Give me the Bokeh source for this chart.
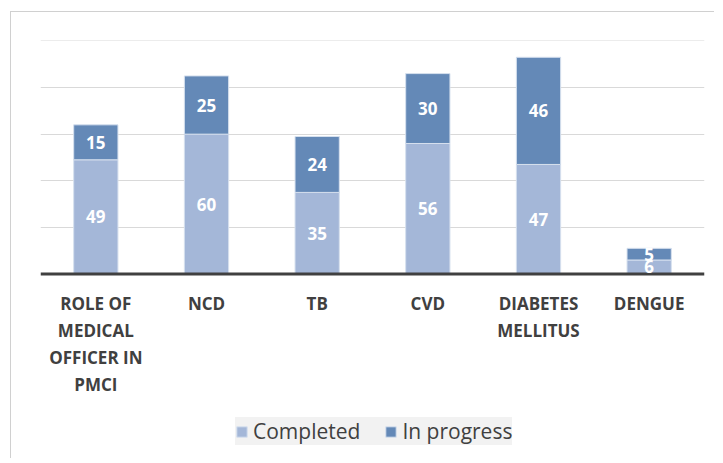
from bokeh.plotting import figure
from bokeh.models import (FactorRange, Range1d, FixedTicker, ColumnDataSource, LabelSet,
                          Legend, LegendItem, Span)
from bokeh.core.properties import value
from bokeh.embed import file_html
from bokeh.resources import INLINE

categories = ["ROLE OF\nMEDICAL\nOFFICER IN\nPMCI", "NCD", "TB", "CVD", "DIABETES\nMELLITUS", "DENGUE"]
completed = [49, 60, 35, 56, 47, 6]
in_progress = [15, 25, 24, 30, 46, 5]
series = ["Completed", "In progress"]
colors = ["#a4b7d8", "#6489b7"]
grid_ticks = [20, 40, 60, 80, 100]

FONT = "Open Sans"
PPU = 2.33            # pixels per value unit
FRAME_H = 418
Y_TOP = 100.2
Y_BOTTOM = Y_TOP - FRAME_H / PPU

split = [c.split("\n") for c in categories]
n_lines = max(len(s) for s in split)
line_cols = {f"line{i}": [s[i] if i < len(s) else "" for s in split] for i in range(n_lines)}

src = ColumnDataSource(dict(
    x=categories,
    Completed=completed,
    **{"In progress": in_progress},
    base=[0] * len(categories),
    c_mid=[c / 2 for c in completed],
    p_mid=[c + p / 2 for c, p in zip(completed, in_progress)],
    c_txt=[str(v) for v in completed],
    p_txt=[str(v) for v in in_progress],
    **line_cols,
))

p = figure(x_range=FactorRange(*categories), y_range=Range1d(Y_BOTTOM, Y_TOP),
           frame_width=664, frame_height=FRAME_H, output_backend="svg", toolbar_location=None,
           min_border_left=29, min_border_right=10, min_border_top=28, min_border_bottom=0,
           styles={"border-left": "1px solid #d0d0d0", "border-top": "1px solid #d0d0d0",
                   "margin-left": "10px", "margin-top": "11px"})
p.outline_line_color = None

rs = p.vbar_stack(series, x="x", width=0.4, color=colors, source=src,
                  line_color="#d6e0ee", line_width=1)

p.xaxis.visible = False
p.yaxis.visible = False
p.xgrid.grid_line_color = None
p.ygrid.ticker = FixedTicker(ticks=grid_ticks)
p.ygrid.grid_line_color = "#d9d9d9"
p.ygrid.grid_line_width = 1

# category axis baseline
p.add_layout(Span(location=0, dimension="width", line_color="#404040", line_width=3))

# category labels under the baseline, one centred line at a time
for i in range(n_lines):
    p.add_layout(LabelSet(x="x", y="base", text=f"line{i}", source=src,
                          y_offset=-18 - 27 * i,
                          text_align="center", text_baseline="top",
                          text_color="#404040", text_font=value(FONT),
                          text_font_style="bold", text_font_size="17px"))

# value labels
for col_y, col_t in (("c_mid", "c_txt"), ("p_mid", "p_txt")):
    p.add_layout(LabelSet(x="x", y=col_y, text=col_t, source=src,
                          text_align="center", text_baseline="middle",
                          text_color="white", text_font=value(FONT),
                          text_font_style="bold", text_font_size="17px"))

legend = Legend(items=[LegendItem(label=s, renderers=[r]) for s, r in zip(series, rs)],
                orientation="horizontal", location=(195, 13),
                background_fill_color="#f2f2f2", background_fill_alpha=1,
                border_line_color=None, label_text_font=FONT,
                label_text_font_size="21px", label_text_color="#404040",
                glyph_width=13, glyph_height=13, label_standoff=5,
                spacing=24, padding=18, margin=0)
p.add_layout(legend, "center")

open("out.html", "w").write(file_html(p, INLINE))
